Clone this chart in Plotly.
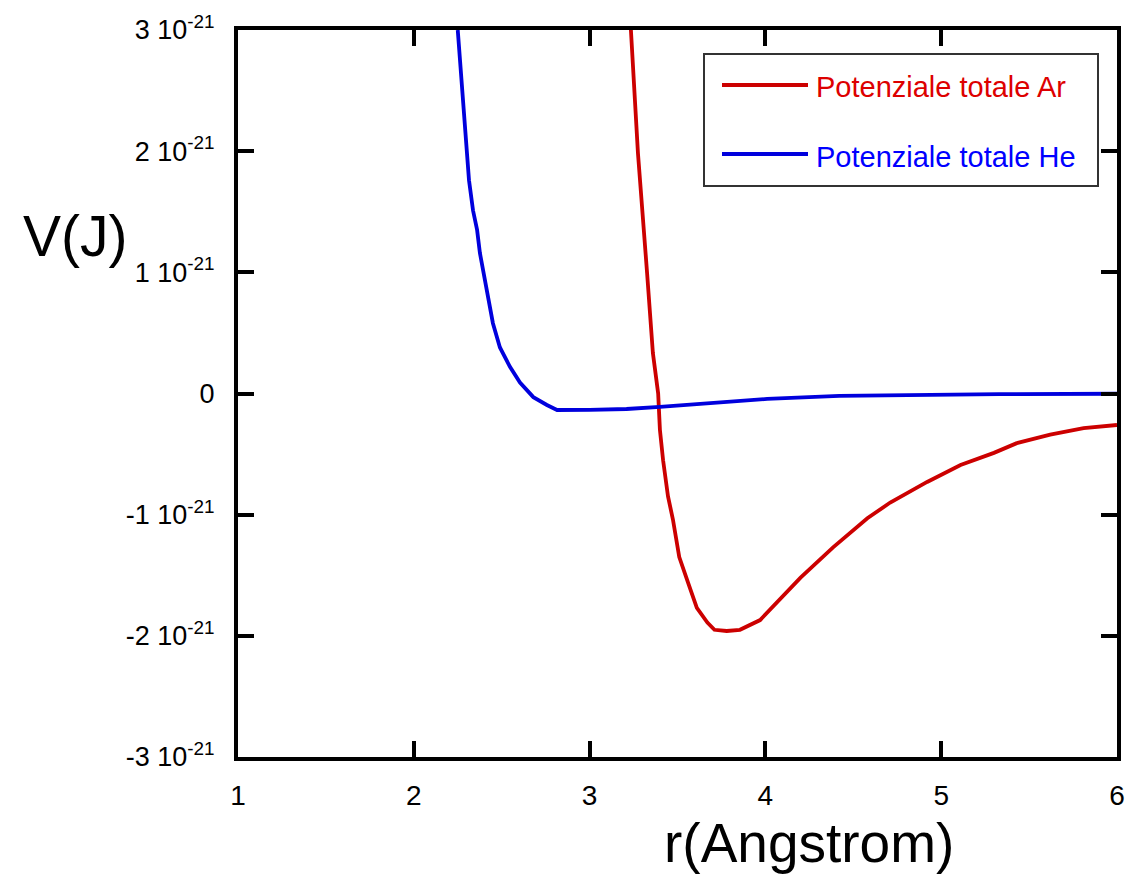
import plotly.graph_objects as go

# ---- data ----
r_ar = [3.235, 3.275, 3.327, 3.36, 3.39, 3.40, 3.418, 3.446, 3.474, 3.51, 3.56, 3.61,
        3.67, 3.71, 3.78, 3.855, 3.97, 4.08, 4.20, 4.385, 4.58, 4.71, 4.92, 5.11,
        5.30, 5.43, 5.62, 5.81, 6.0]
v_ar = [3.0, 1.984, 0.994, 0.334, 0.0, -0.30, -0.55, -0.85, -1.04, -1.35, -1.56, -1.77,
        -1.89, -1.95, -1.96, -1.95, -1.87, -1.70, -1.52, -1.27, -1.03, -0.90, -0.73, -0.59,
        -0.49, -0.41, -0.34, -0.285, -0.26]

r_he = [2.25, 2.263, 2.274, 2.286, 2.30, 2.314, 2.337, 2.36, 2.376, 2.405, 2.422, 2.45,
        2.49, 2.547, 2.604, 2.68, 2.757, 2.815, 3.0, 3.21, 3.40, 3.61, 4.01, 4.42,
        4.9, 5.33, 6.0]
v_he = [3.0, 2.75, 2.50, 2.26, 2.03, 1.76, 1.51, 1.35, 1.16, 0.94, 0.77, 0.58,
        0.38, 0.22, 0.09, -0.03, -0.095, -0.136, -0.135, -0.128, -0.11, -0.087, -0.045, -0.02,
        -0.01, -0.005, -0.002]

SCALE = 1e-21
x_ticks = [1, 2, 3, 4, 5, 6]
y_tick_mult = [-3, -2, -1, 0, 1, 2, 3]
y_tick_text = ["-3 10<sup>-21</sup>", "-2 10<sup>-21</sup>", "-1 10<sup>-21</sup>", "0",
               "1 10<sup>-21</sup>", "2 10<sup>-21</sup>", "3 10<sup>-21</sup>"]
series_names = ["Potenziale totale Ar", "Potenziale totale He"]
line_colors = ["#CC0000", "#0000DD"]
text_colors = ["#DD0000", "#0000FF"]

FONT = "Liberation Sans, Arial, sans-serif"

# ---- geometry (pixels) ----
W, H = 1146, 875
L, R, T, B = 238, 1117, 30, 757


def px(xp):
    return (xp - L) / (R - L)


def py(yp):
    return (B - yp) / (B - T)


fig = go.Figure()
fig.add_trace(go.Scatter(x=r_ar, y=[v * SCALE for v in v_ar], mode="lines",
                         line=dict(color=line_colors[0], width=3.8), name=series_names[0],
                         showlegend=False))
fig.add_trace(go.Scatter(x=r_he, y=[v * SCALE for v in v_he], mode="lines",
                         line=dict(color=line_colors[1], width=3.8), name=series_names[1],
                         showlegend=False))

shapes = [
    dict(type="rect", xref="paper", yref="paper", x0=px(704), x1=px(1098), y0=py(186), y1=py(54),
         line=dict(color="#333333", width=2), fillcolor="white", layer="above"),
    dict(type="line", xref="paper", yref="paper", x0=px(722), x1=px(808), y0=py(85), y1=py(85),
         line=dict(color=line_colors[0], width=3.8), layer="above"),
    dict(type="line", xref="paper", yref="paper", x0=px(722), x1=px(808), y0=py(154), y1=py(154),
         line=dict(color=line_colors[1], width=3.8), layer="above"),
]
annotations = [
    dict(xref="paper", yref="paper", x=px(814), y=py(87), text=series_names[0], showarrow=False,
         xanchor="left", yanchor="middle", font=dict(family=FONT, size=29, color=text_colors[0])),
    dict(xref="paper", yref="paper", x=px(814), y=py(157), text=series_names[1], showarrow=False,
         xanchor="left", yanchor="middle", font=dict(family=FONT, size=29, color=text_colors[1])),
    dict(xref="paper", yref="paper", x=px(75), y=py(236), text="V(J)", showarrow=False,
         xanchor="center", yanchor="middle", font=dict(family=FONT, size=57, color="black")),
    dict(xref="paper", yref="paper", x=px(809), y=py(875), text="r(Angstrom)", showarrow=False,
         xanchor="center", yanchor="bottom", borderpad=0,
         font=dict(family=FONT, size=55, color="black")),
]

fig.update_layout(
    width=W, height=H,
    margin=dict(l=L, r=W - R, t=T, b=H - B, pad=0),
    paper_bgcolor="white", plot_bgcolor="white",
    showlegend=False,
    shapes=shapes, annotations=annotations,
    font=dict(family=FONT, color="black"),
)
fig.update_xaxes(range=[1, 6], tickvals=x_ticks, ticktext=[str(t) for t in x_ticks],
                 showgrid=False, zeroline=False, showline=True, linecolor="black", linewidth=4,
                 mirror="ticks", ticks="inside", ticklen=16, tickwidth=4, tickcolor="black",
                 tickfont=dict(family=FONT, size=28, color="black"), ticklabelstandoff=10)
fig.update_yaxes(range=[-3 * SCALE, 3 * SCALE], tickvals=[m * SCALE for m in y_tick_mult],
                 ticktext=y_tick_text,
                 showgrid=False, zeroline=False, showline=True, linecolor="black", linewidth=4,
                 mirror="ticks", ticks="inside", ticklen=16, tickwidth=4, tickcolor="black",
                 tickfont=dict(family=FONT, size=27, color="black"), ticklabelstandoff=14)

fig.write_html("out.html")
